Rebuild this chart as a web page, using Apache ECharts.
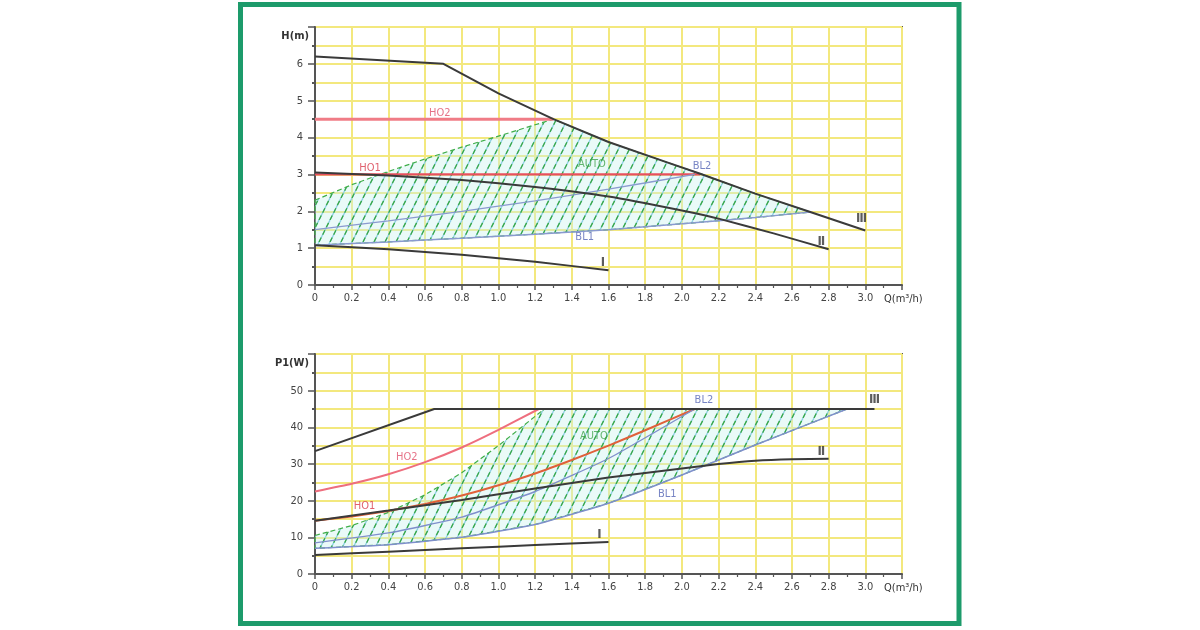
<!DOCTYPE html>
<html><head><meta charset="utf-8">
<script src="https://cdn.jsdelivr.net/npm/echarts@6/dist/echarts.min.js"></script>
<style>html,body{margin:0;padding:0;background:#fff}#c{width:1200px;height:630px}</style>
</head><body><div id="c"></div>
<script>
// ---------- Top chart: H(m) vs Q(m3/h) ----------
const hIII_q = [0, 0.7, 1.0, 1.3, 1.6, 1.9, 2.1, 2.4, 2.7, 3.0];
const hIII_v = [6.2, 6.0, 5.2, 4.5, 3.88, 3.36, 3.02, 2.48, 1.98, 1.48];
const hII_q  = [0, 0.4, 0.8, 1.2, 1.6, 2.0, 2.2, 2.5, 2.8];
const hII_v  = [3.05, 2.97, 2.85, 2.66, 2.4, 2.02, 1.8, 1.4, 0.97];
const hI_q   = [0, 0.4, 0.8, 1.2, 1.6];
const hI_v   = [1.08, 0.97, 0.82, 0.63, 0.4];
const hHO2_q = [0, 1.3];
const hHO2_v = [4.5, 4.5];
const hHO1_q = [0, 2.1];
const hHO1_v = [3.0, 3.0];
const hBL2_q = [0, 0.4, 0.8, 1.2, 1.6, 2.07];
const hBL2_v = [1.5, 1.74, 2.0, 2.28, 2.6, 3.0];
const hBL1_q = [0, 0.4, 0.8, 1.2, 1.6, 2.0, 2.4, 2.7];
const hBL1_v = [1.08, 1.17, 1.27, 1.38, 1.5, 1.66, 1.83, 1.98];
const hAUTO_q = [0, 0.2, 0.4, 0.6, 0.8, 1.0, 1.3];
const hAUTO_v = [2.3, 2.72, 3.08, 3.42, 3.74, 4.04, 4.5];
const topLabels = [
  ['HO2', 0.68, 4.66], ['HO1', 0.3, 3.17], ['AUTO', 1.51, 3.28], ['BL2', 2.11, 3.23],
  ['BL1', 1.47, 1.29], ['Ⅰ', 1.57, 0.6], ['Ⅱ', 2.76, 1.18], ['Ⅲ', 2.98, 1.8]
];

// ---------- Bottom chart: P1(W) vs Q(m3/h) ----------
const pIII_q = [0, 0.65, 3.05];
const pIII_v = [33.5, 45, 45];
const pII_q  = [0, 0.4, 0.8, 1.2, 1.6, 2.0, 2.2, 2.4, 2.6, 2.8];
const pII_v  = [14.5, 17.3, 20.2, 23.3, 26.3, 28.8, 30.0, 30.9, 31.3, 31.4];
const pI_q   = [0, 0.4, 0.8, 1.2, 1.6];
const pI_v   = [5.2, 6.1, 7.0, 7.9, 8.7];
const pHO2_q = [0, 0.2, 0.4, 0.6, 0.8, 1.0, 1.22];
const pHO2_v = [22.5, 24.6, 27.2, 30.5, 34.5, 39.3, 45];
const pHO1_q = [0, 0.2, 0.4, 0.6, 0.8, 1.0, 1.2, 1.4, 1.6, 1.8, 2.07];
const pHO1_v = [14.5, 15.7, 17.2, 19.1, 21.4, 24.2, 27.4, 31.1, 35.0, 39.2, 45];
const pBL2_q = [0, 0.4, 0.8, 1.2, 1.6, 2.07];
const pBL2_v = [8.5, 11.2, 15.5, 22.5, 31.5, 45];
const pBL1_q = [0, 0.4, 0.8, 1.2, 1.6, 2.0, 2.4, 2.9];
const pBL1_v = [7.0, 8.0, 10.0, 13.5, 19.3, 27.0, 35.2, 45];
const pAUTO_q = [0, 0.2, 0.4, 0.6, 0.8, 1.0, 1.25];
const pAUTO_v = [10.5, 13.2, 16.8, 21.6, 27.6, 35.0, 45];
const bottomLabels = [
  ['HO2', 0.5, 32.0], ['HO1', 0.27, 18.4], ['AUTO', 1.52, 37.5], ['BL2', 2.12, 47.5],
  ['BL1', 1.92, 21.9], ['Ⅰ', 1.55, 10.8], ['Ⅱ', 2.76, 33.4], ['Ⅲ', 3.05, 47.5]
];

const xTickMax = 3.2;
const topYMax = 7, botYMax = 60;

// ---------- helpers ----------
const zip = (q, v) => q.map((x, i) => [x, v[i]]);

// hatched AUTO region polygons built from the boundary arrays
const topPoly = zip(hAUTO_q, hAUTO_v)
  .concat(zip(hIII_q, hIII_v).filter(p => p[0] > 1.3 && p[0] < 2.7))
  .concat(zip(hBL1_q, hBL1_v).reverse());
const botPoly = zip(pAUTO_q, pAUTO_v)
  .concat([[pBL1_q[pBL1_q.length - 1], pIII_v[pIII_v.length - 1]]])
  .concat(zip(pBL1_q, pBL1_v).reverse());

function makeHatch() {
  const w = 11, h = 22;
  const c = document.createElement('canvas');
  c.width = w; c.height = h;
  const g = c.getContext('2d');
  g.fillStyle = 'rgba(200,242,236,0.38)';
  g.fillRect(0, 0, w, h);
  const segs = [[-w, h, 0, 0], [0, h, w, 0], [w, h, 2 * w, 0]];
  g.lineWidth = 1.3;
  g.strokeStyle = '#8fd0e4';
  segs.forEach(s => { g.beginPath(); g.moveTo(s[0], s[1]); g.lineTo(s[2], s[3]); g.stroke(); });
  g.strokeStyle = '#38a845';
  g.setLineDash([5, 3.2]);
  segs.forEach(s => { g.beginPath(); g.moveTo(s[0], s[1]); g.lineTo(s[2], s[3]); g.stroke(); });
  return c;
}
const hatch = { image: makeHatch(), repeat: 'repeat' };

const GRID = '#f3e87e', AX = '#555', TXT = '#444';
const colorOf = { HO2: '#e0506a', HO1: '#d83a4a', AUTO: '#3fa34a', BL2: '#5565b5', BL1: '#5565b5' };

function xAx(gi) {
  return {
    type: 'value', gridIndex: gi, min: 0, max: xTickMax, interval: 0.2,
    axisLine: { show: true, onZero: false, lineStyle: { color: AX, width: 2 } },
    axisTick: { show: true, length: 5, lineStyle: { color: AX, width: 1.5 } },
    minorTick: { show: true, splitNumber: 2, length: 3, lineStyle: { color: AX, width: 1.2 } },
    splitLine: { show: true, lineStyle: { color: GRID, width: 2 } },
    axisLabel: { color: TXT, fontSize: 11, fontFamily: 'DejaVu Sans Condensed', margin: 8, showMaxLabel: false,
      formatter: v => (v === 0 ? '0' : v.toFixed(1)) },
    name: 'Q(m³/h)', nameLocation: 'end', nameGap: -18,
    nameTextStyle: { color: '#333', fontSize: 11, fontFamily: 'DejaVu Sans Condensed', verticalAlign: 'top', align: 'left', padding: [9, 0, 0, 0] }
  };
}
function yAx(gi, max, interval, name) {
  return {
    type: 'value', gridIndex: gi, min: 0, max: max, interval: interval,
    axisLine: { show: true, onZero: false, lineStyle: { color: AX, width: 2 } },
    axisTick: { show: true, length: 7, lineStyle: { color: AX, width: 1.5 } },
    minorTick: { show: true, splitNumber: 2, length: 3, lineStyle: { color: AX, width: 2 } },
    splitLine: { show: true, lineStyle: { color: GRID, width: 2 } },
    minorSplitLine: { show: true, lineStyle: { color: GRID, width: 2 } },
    axisLabel: { color: TXT, fontSize: 11, fontFamily: 'DejaVu Sans Condensed', margin: 12, showMaxLabel: false },
    name: name, nameLocation: 'end', nameGap: -9,
    nameTextStyle: { color: '#333', fontSize: 11, fontWeight: 'bold', fontFamily: 'DejaVu Sans Condensed', align: 'right', verticalAlign: 'middle', padding: [0, 6, 0, 0] }
  };
}
function line(gi, q, v, color, width, extra) {
  return Object.assign({
    type: 'line', xAxisIndex: gi, yAxisIndex: gi, data: zip(q, v), symbol: 'none',
    smooth: 0.15,
    lineStyle: { color: color, width: width }, z: 3, silent: true
  }, extra || {});
}
function hatchSeries(gi, poly) {
  return {
    type: 'custom', xAxisIndex: gi, yAxisIndex: gi, data: poly, z: 2, silent: true,
    renderItem: (params, api) => {
      if (params.dataIndex !== 0) return null;
      return {
        type: 'polygon',
        shape: { points: poly.map(p => api.coord(p)) },
        style: { fill: hatch, stroke: '#3fae49', lineWidth: 1.2, lineDash: [5, 3] }
      };
    }
  };
}
function labelSeries(gi, labels) {
  return {
    type: 'scatter', xAxisIndex: gi, yAxisIndex: gi, symbolSize: 0, z: 5, silent: true,
    data: labels.map(l => ({
      value: [l[1], l[2]], name: l[0],
      label: {
        show: true, position: 'inside', formatter: l[0],
        color: colorOf[l[0]] || '#333',
        fontSize: colorOf[l[0]] ? 11 : 13,
        fontWeight: colorOf[l[0]] ? 'normal' : 'bold',
        fontFamily: 'DejaVu Sans Condensed'
      }
    }))
  };
}

const chart = echarts.init(document.getElementById('c'), null, { renderer: 'canvas' });
chart.setOption({
  backgroundColor: '#fff',
  animation: false,
  graphic: [{
    type: 'rect', shape: { x: 240.5, y: 4.5, width: 718.5, height: 619 },
    style: { fill: 'none', stroke: '#1d9b6b', lineWidth: 5 }, z: 100
  }],
  grid: [
    { left: 315, top: 27, width: 587, height: 258, show: true, borderColor: AX, borderWidth: 2, backgroundColor: 'transparent' },
    { left: 315, top: 354, width: 587, height: 220, show: true, borderColor: AX, borderWidth: 2, backgroundColor: 'transparent' }
  ],
  xAxis: [xAx(0), xAx(1)],
  yAxis: [yAx(0, topYMax, 1, 'H(m)'), yAx(1, botYMax, 10, 'P1(W)')],
  series: [
    hatchSeries(0, topPoly),
    line(0, hHO2_q, hHO2_v, '#f07c86', 3),
    line(0, hHO1_q, hHO1_v, '#e8505e', 2.2),
    line(0, hBL2_q, hBL2_v, '#8a9ad0', 1.3),
    line(0, hBL1_q, hBL1_v, '#8a9ad0', 1.5),
    line(0, hIII_q, hIII_v, '#3a3a3a', 2, { smooth: false }),
    line(0, hII_q, hII_v, '#3a3a3a', 2),
    line(0, hI_q, hI_v, '#3a3a3a', 2),
    labelSeries(0, topLabels),

    hatchSeries(1, botPoly),
    line(1, pHO2_q, pHO2_v, '#ee6e7e', 2),
    line(1, pHO1_q, pHO1_v, '#e0603a', 2),
    line(1, pBL2_q, pBL2_v, '#7f8fcc', 1.4),
    line(1, pBL1_q, pBL1_v, '#7f8fcc', 1.5),
    line(1, pIII_q, pIII_v, '#3a3a3a', 2, { smooth: false }),
    line(1, pII_q, pII_v, '#3a3a3a', 2),
    line(1, pI_q, pI_v, '#3a3a3a', 2),
    labelSeries(1, bottomLabels)
  ]
});
</script>
</body></html>
